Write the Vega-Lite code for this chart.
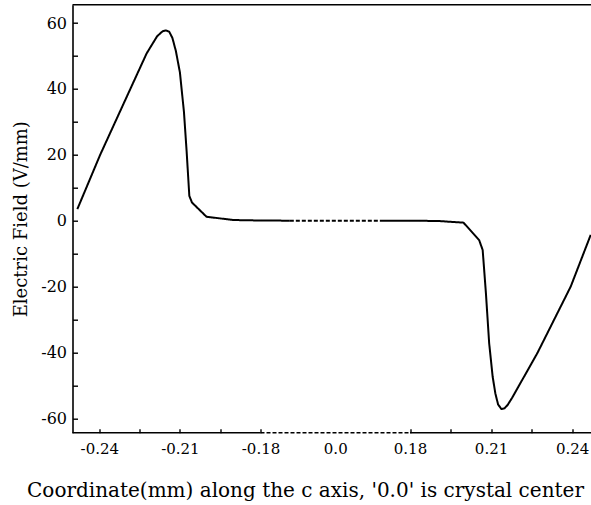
{
  "$schema": "https://vega.github.io/schema/vega-lite/v6.json",
  "width": 518.5,
  "height": 428,
  "autosize": {"type": "none"},
  "padding": {"left": 72.5, "top": 4.7, "right": 0, "bottom": 72.3},
  "background": "white",
  "config": {
    "view": {"stroke": null},
    "font": "DejaVu Serif",
    "axis": {"labelFont": "DejaVu Serif", "titleFont": "DejaVu Serif", "labelColor": "black", "titleColor": "black", "tickColor": "black", "domainColor": "black", "grid": false, "titleFontWeight": "normal"}
  },
  "resolve": {"axis": {"x": "independent", "y": "independent"}},
  "datasets": {
    "curve": [
      {"x": -0.2482, "e": 3.5, "seg": "left"},
      {"x": -0.2397, "e": 20.0, "seg": "left"},
      {"x": -0.2310, "e": 35.5, "seg": "left"},
      {"x": -0.2224, "e": 50.8, "seg": "left"},
      {"x": -0.2185, "e": 56.0, "seg": "left"},
      {"x": -0.2165, "e": 57.5, "seg": "left"},
      {"x": -0.2152, "e": 57.8, "seg": "left"},
      {"x": -0.2140, "e": 57.4, "seg": "left"},
      {"x": -0.2128, "e": 55.5, "seg": "left"},
      {"x": -0.2115, "e": 51.5, "seg": "left"},
      {"x": -0.2100, "e": 45.0, "seg": "left"},
      {"x": -0.2085, "e": 33.0, "seg": "left"},
      {"x": -0.2075, "e": 21.0, "seg": "left"},
      {"x": -0.2065, "e": 7.5, "seg": "left"},
      {"x": -0.2055, "e": 5.5, "seg": "left"},
      {"x": -0.2001, "e": 1.2, "seg": "left"},
      {"x": -0.1902, "e": 0.2, "seg": "left"},
      {"x": -0.1800, "e": 0.05, "seg": "left"},
      {"x": -0.1094, "e": 0.0, "seg": "left"},
      {"x": -0.1094, "e": 0.0, "seg": "middle"},
      {"x": 0.1077, "e": 0.0, "seg": "middle"},
      {"x": 0.1077, "e": 0.0, "seg": "right"},
      {"x": 0.1800, "e": 0.0, "seg": "right"},
      {"x": 0.1905, "e": -0.1, "seg": "right"},
      {"x": 0.1998, "e": -0.6, "seg": "right"},
      {"x": 0.2056, "e": -5.9, "seg": "right"},
      {"x": 0.2069, "e": -8.9, "seg": "right"},
      {"x": 0.2081, "e": -22.0, "seg": "right"},
      {"x": 0.2093, "e": -37.2, "seg": "right"},
      {"x": 0.2106, "e": -47.4, "seg": "right"},
      {"x": 0.2116, "e": -52.5, "seg": "right"},
      {"x": 0.2126, "e": -55.8, "seg": "right"},
      {"x": 0.2138, "e": -57.2, "seg": "right"},
      {"x": 0.2150, "e": -57.0, "seg": "right"},
      {"x": 0.2162, "e": -55.9, "seg": "right"},
      {"x": 0.2178, "e": -53.8, "seg": "right"},
      {"x": 0.2271, "e": -40.3, "seg": "right"},
      {"x": 0.2395, "e": -20.0, "seg": "right"},
      {"x": 0.2469, "e": -4.3, "seg": "right"}
    ],
    "frame": [
      {"a": -0.25, "b": -0.18, "kind": "solid"},
      {"a": -0.18, "b": 0.18, "kind": "dashed"},
      {"a": 0.18, "b": 0.247, "kind": "solid"}
    ],
    "top": [
      {"a": -0.25, "b": 0.247}
    ]
  },
  "layer": [
    {
      "data": {"name": "curve"},
      "mark": {"type": "line", "color": "black", "strokeWidth": 2, "interpolate": "linear", "strokeJoin": "round"},
      "encoding": {
        "x": {
          "field": "x", "type": "quantitative",
          "scale": {"type": "linear", "domain": [-0.25, -0.18, 0.18, 0.247], "range": [0, 188, 337.5, 518.5], "nice": false, "zero": false},
          "axis": {
            "title": "Coordinate(mm) along the c axis, '0.0' is crystal center",
            "titleFontSize": 20,
            "titlePadding": 24,
            "titleX": 232.5,
            "domain": false,
            "ticks": false,
            "values": [-0.24, -0.21, -0.18, 0, 0.18, 0.21, 0.24],
            "labelExpr": "datum.value == 0 ? '0.0' : (datum.value < 0 ? '-' : '') + format(abs(datum.value), '.2f')",
            "labelFontSize": 15,
            "labelPadding": 9,
            "labelFlush": false,
            "labelOverlap": false
          }
        },
        "y": {
          "field": "e", "type": "quantitative",
          "scale": {"domain": [-64.4, 65.6], "nice": false, "zero": false},
          "axis": {
            "title": "Electric Field (V/mm)",
            "titleFontSize": 18,
            "titlePadding": 10,
            "values": [-60, -40, -20, 0, 20, 40, 60],
            "labelExpr": "'' + datum.value",
            "ticks": false,
            "labelFontSize": 16,
            "labelPadding": 6,
            "labelFlush": false,
            "labelOverlap": false,
            "domainWidth": 1.6
          }
        },
        "detail": {"field": "seg"},
        "strokeDash": {"field": "seg", "type": "nominal", "scale": {"domain": ["left", "middle", "right"], "range": [[1, 0], [4, 2], [1, 0]]}, "legend": null}
      }
    },
    {
      "data": {"name": "frame"},
      "mark": {"type": "rule", "color": "black", "strokeWidth": 1.6},
      "encoding": {
        "x": {"field": "a", "type": "quantitative", "axis": null},
        "x2": {"field": "b"},
        "y": {"datum": -64.4, "axis": null},
        "strokeDash": {"field": "kind", "type": "nominal", "scale": {"domain": ["solid", "dashed"], "range": [[1, 0], [3, 2]]}, "legend": null}
      }
    },
    {
      "data": {"name": "top"},
      "mark": {"type": "rule", "color": "black", "strokeWidth": 1.6},
      "encoding": {
        "x": {"field": "a", "type": "quantitative", "axis": null},
        "x2": {"field": "b"},
        "y": {"datum": 65.6, "axis": null}
      }
    },
    {
      "data": {"name": "curve"},
      "mark": {"type": "point", "opacity": 0},
      "encoding": {
        "x": {
          "field": "x", "type": "quantitative",
          "axis": {"orient": "top", "offset": -428, "title": null, "labels": false, "domain": false, "ticks": true, "tickSize": 4, "tickWidth": 1.4, "values": [-0.24, -0.225, -0.21, -0.195, -0.18, 0.18, 0.195, 0.21, 0.225, 0.24]}
        },
        "y": {
          "field": "e", "type": "quantitative",
          "axis": {"orient": "right", "offset": -518.5, "title": null, "labels": false, "domain": false, "ticks": true, "tickSize": 5, "tickWidth": 1.4, "values": [-60, -50, -40, -30, -20, -10, 0, 10, 20, 30, 40, 50, 60]}
        }
      }
    }
  ]
}
